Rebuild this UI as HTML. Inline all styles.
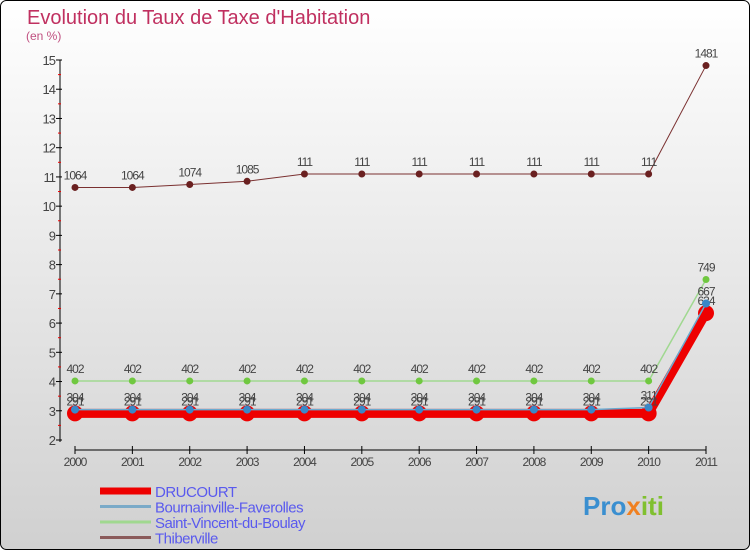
<!DOCTYPE html>
<html><head><meta charset="utf-8"><style>
body{margin:0;width:750px;height:550px;overflow:hidden;font-family:"Liberation Sans",sans-serif}
</style></head><body>
<svg id="chart" width="750" height="550" xmlns="http://www.w3.org/2000/svg">
<defs><linearGradient id="bg" x1="0" y1="0" x2="0" y2="1"><stop offset="0" stop-color="#ffffff"/><stop offset="1" stop-color="#d0d0d0"/></linearGradient></defs>
<rect x="0.5" y="0.5" width="749" height="549" rx="6" fill="url(#bg)" stroke="#000"/>
<text x="27" y="24" font-size="20" fill="#c03060">Evolution du Taux de Taxe d'Habitation</text>
<text x="26" y="40" font-size="12" fill="#c05080">(en %)</text>
<g id="axes"></g><g id="series"></g><g id="legend"></g>
<text x="583" y="515" font-size="26" font-weight="bold" fill="#3a8fd0">Pro<tspan fill="#f08020">x</tspan><tspan fill="#80c030">iti</tspan></text>
</svg>
<script>
const years=[2000,2001,2002,2003,2004,2005,2006,2007,2008,2009,2010,2011];
const yTicks=[2,3,4,5,6,7,8,9,10,11,12,13,14,15];
const drucourt=[2.91,2.91,2.91,2.91,2.91,2.91,2.91,2.91,2.91,2.91,2.91,6.34];
const bournainville=[3.04,3.04,3.04,3.04,3.04,3.04,3.04,3.04,3.04,3.04,3.11,6.67];
const saintVincent=[4.02,4.02,4.02,4.02,4.02,4.02,4.02,4.02,4.02,4.02,4.02,7.49];
const thiberville=[10.64,10.64,10.74,10.85,11.1,11.1,11.1,11.1,11.1,11.1,11.1,14.81];
const NS="http://www.w3.org/2000/svg";
const X=i=>75+i*(631/11);
const Y=v=>440-(v-2)*(380/13);
function mk(tag,attrs,parent,txt){const e=document.createElementNS(NS,tag);for(const k in attrs)e.setAttribute(k,attrs[k]);if(txt!==undefined)e.textContent=txt;parent.appendChild(e);return e;}
const axes=document.getElementById('axes');
let e=mk('line',{x1:60,y1:60,x2:60,y2:442,stroke:'#000'},axes);


e=mk('line',{x1:75,y1:450,x2:706,y2:450,stroke:'#000'},axes);


yTicks.forEach(t=>{
  mk('line',{x1:56,y1:Y(t),x2:62,y2:Y(t),stroke:'#000'},axes);
  if(t<15) mk('line',{x1:58,y1:Y(t+0.5),x2:61,y2:Y(t+0.5),stroke:'#e00'},axes);
  const l=mk('text',{x:55,y:Y(t)+5,'font-size':13,fill:'#444','text-anchor':'end','letter-spacing':'-1'},axes,t);
  
  
});
years.forEach((yr,i)=>{
  mk('line',{x1:X(i),y1:446,x2:X(i),y2:454,stroke:'#000'},axes);
  const l=mk('text',{x:X(i),y:466,'font-size':12,fill:'#444','text-anchor':'middle','letter-spacing':'-1'},axes,yr);
  
  
});
const ser=document.getElementById('series');
function draw(vals,color,w,r,name,mColor){
  const g=mk('g',{},ser);
  
  
  mk('polyline',{points:vals.map((v,i)=>X(i)+','+Y(v)).join(' '),fill:'none',stroke:color,'stroke-width':w},g);
  vals.forEach((v,i)=>{
    const c=mk('circle',{cx:X(i),cy:Y(v),r:r,fill:mColor||color},g);
    
    
    const t=mk('text',{x:X(i),y:Y(v)-8,'font-size':12,fill:'#444','text-anchor':'middle','letter-spacing':'-1'},g,String(v).replace('.',''));
    
    
  });
}
draw(thiberville,'#7a3030',1,3.5,'thiberville','#6a2020');
draw(saintVincent,'#a0d890',1.5,3.5,'saint-vincent','#70c840');
draw(drucourt,'#ee0000',9,8,'drucourt');
draw(bournainville,'#6aaad0',1.5,4,'bournainville','#3a88c8');
const lg=document.getElementById('legend');
[['DRUCOURT','#ee0000',7],['Bournainville-Faverolles','#7aaac8',3],['Saint-Vincent-du-Boulay','#a0d890',3],['Thiberville','#8a5a5a',3]].forEach((d,i)=>{
  const y=491+i*15.5;
  const g=mk('g',{},lg);
  
  
  mk('line',{x1:100,y1:y,x2:151,y2:y,stroke:d[1],'stroke-width':d[2]},g);
  mk('text',{x:155,y:y+6,'font-size':15,fill:'#5a5aee','letter-spacing':'-0.5'},g,d[0]);
});
</script>
</body></html>
